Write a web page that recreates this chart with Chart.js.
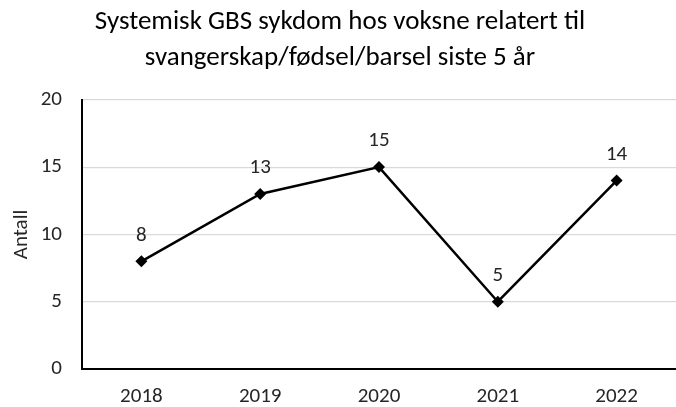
<!DOCTYPE html>
<html>
<head>
<meta charset="utf-8">
<script src="https://cdn.jsdelivr.net/npm/chart.js@4"></script>
<style>
  html, body { margin: 0; padding: 0; background: #fff; }
  #wrap { width: 676px; height: 407px; }
</style>
</head>
<body>
<div id="wrap"><canvas id="chart" width="676" height="407"></canvas></div>
<script>
  const years = ['2018', '2019', '2020', '2021', '2022'];
  const cases = [8, 13, 15, 5, 14];
  const yTicks = [0, 5, 10, 15, 20];
  const titleLines = ['Systemisk GBS sykdom hos voksne relatert til', 'svangerskap/fødsel/barsel siste 5 år'];

  const fontFamily = 'Carlito, Calibri, Lato, "Open Sans", sans-serif';

  // labels over each point, positioned from the library's elements
  const valueLabels = {
    id: 'valueLabels',
    afterDatasetsDraw(chart) {
      const ctx = chart.ctx;
      const meta = chart.getDatasetMeta(0);
      ctx.save();
      ctx.font = '21px ' + fontFamily;
      ctx.fillStyle = '#262626';
      ctx.textAlign = 'center';
      ctx.textBaseline = 'middle';
      meta.data.forEach((pt, i) => {
        ctx.fillText(String(cases[i]), pt.x, pt.y - 26);
      });
      ctx.restore();
    }
  };

  new Chart(document.getElementById('chart'), {
    type: 'line',
    data: {
      labels: years,
      datasets: [{
        data: cases,
        borderColor: '#000',
        backgroundColor: '#000',
        borderWidth: 2.5,
        pointStyle: 'rectRot',
        pointRadius: 6,
        pointBorderWidth: 0,
        tension: 0
      }]
    },
    options: {
      responsive: false,
      animation: false,
      layout: { autoPadding: false, padding: { left: 0, right: -4, top: 0, bottom: 0 } },
      plugins: {
        legend: { display: false },
        tooltip: { enabled: false },
        title: {
          display: true,
          text: titleLines,
          color: '#000',
          font: { family: fontFamily, size: 27, weight: 'normal', lineHeight: 1.33 },
          padding: { top: 4, bottom: 24 }
        }
      },
      scales: {
        x: {
          offset: true,
          grid: { display: false, drawTicks: false },
          border: { color: '#000', width: 2 },
          ticks: { color: '#262626', font: { family: fontFamily, size: 21 }, padding: 15 },
          afterFit: s => { s.height = 38; }
        },
        y: {
          min: 0,
          max: 20,
          afterBuildTicks: s => { s.ticks = yTicks.map(v => ({ value: v })); },
          grid: { color: '#d9d9d9', lineWidth: 1.2, drawTicks: false },
          border: { color: '#000', width: 2 },
          ticks: { color: '#262626', font: { family: fontFamily, size: 21 }, padding: 20 },
          title: {
            display: true,
            text: 'Antall',
            color: '#262626',
            font: { family: fontFamily, size: 21 },
            padding: { top: 9, bottom: 0 }
          },
          afterFit: s => { s.width = 82; }
        }
      }
    },
    plugins: [valueLabels]
  });
</script>
</body>
</html>
